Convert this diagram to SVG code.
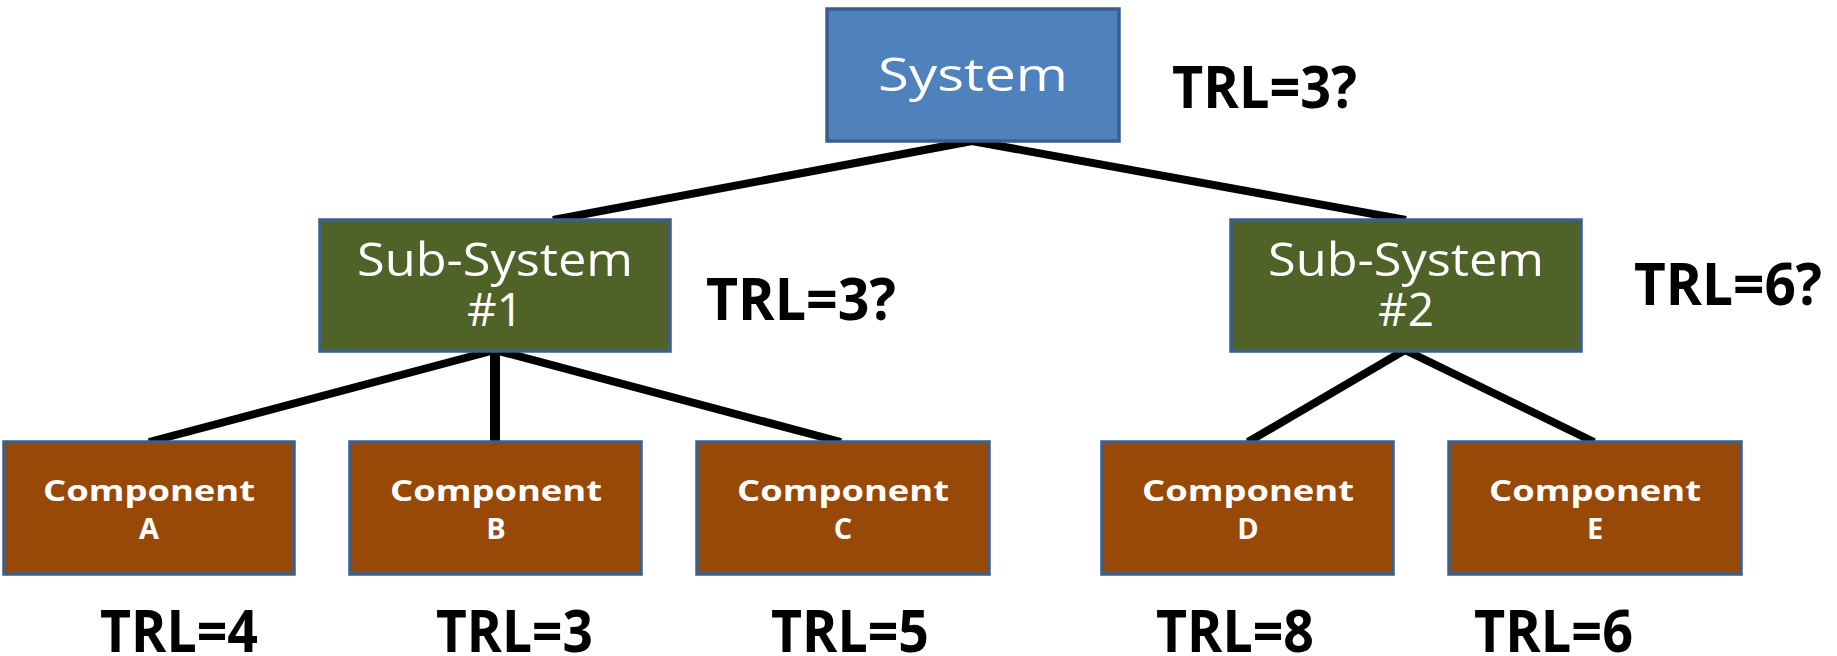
<svg xmlns="http://www.w3.org/2000/svg" width="1837" height="656" viewBox="0 0 1837 656">
  <style>
    .box { stroke-width: 3.5; }
    .sys { fill: #4F81BD; stroke: #3A5F8E; }
    .sub { fill: #4F6228; stroke: #3E5F8A; }
    .comp { fill: #984807; stroke: #3E5F8A; }
    .lbl { fill: #FFFFFF; font-family: "Open Sans", "Noto Sans", sans-serif; text-anchor: middle; }
    .big { font-size: 46px; }
    .small { font-size: 29px; font-weight: bold; }
    .trl { fill: #000000; font-family: "Open Sans", "Liberation Sans", sans-serif; font-weight: bold; font-size: 59px; }
    .edge { stroke: #000000; stroke-width: 8; fill: none; }
    .stem { stroke-width: 10; }
  </style>

  <!-- tree connectors -->
  <g id="connectors">
    <line class="edge" x1="972" y1="141" x2="553" y2="220"/>
    <line class="edge" x1="972" y1="141" x2="1406" y2="220"/>
    <line class="edge" x1="495" y1="350" x2="149" y2="442"/>
    <line class="edge stem" x1="495" y1="350" x2="495" y2="442"/>
    <line class="edge" x1="495" y1="350" x2="841" y2="442"/>
    <line class="edge" x1="1405" y1="350" x2="1248" y2="442"/>
    <line class="edge" x1="1405" y1="350" x2="1594" y2="442"/>
  </g>

  <g id="system">
    <rect class="box sys" x="827" y="9" width="292" height="132"/>
    <text class="lbl big" x="973" y="91" textLength="190" lengthAdjust="spacingAndGlyphs">System</text>
    <text class="trl" x="1172" y="108" textLength="185" lengthAdjust="spacingAndGlyphs">TRL=3?</text>
  </g>

  <g id="subsystem-1">
    <rect class="box sub" x="320" y="220" width="350" height="131"/>
    <text class="lbl big" x="495" y="276" textLength="276" lengthAdjust="spacingAndGlyphs">Sub-System</text>
    <text class="lbl big" x="495" y="326">#1</text>
    <text class="trl" x="706" y="320" textLength="190" lengthAdjust="spacingAndGlyphs">TRL=3?</text>
  </g>

  <g id="subsystem-2">
    <rect class="box sub" x="1231" y="220" width="350" height="131"/>
    <text class="lbl big" x="1406" y="276" textLength="276" lengthAdjust="spacingAndGlyphs">Sub-System</text>
    <text class="lbl big" x="1406" y="326">#2</text>
    <text class="trl" x="1634" y="305" textLength="188" lengthAdjust="spacingAndGlyphs">TRL=6?</text>
  </g>

  <g id="component-a">
    <rect class="box comp" x="4" y="442" width="290" height="132"/>
    <text class="lbl small" x="149" y="501" textLength="212" lengthAdjust="spacingAndGlyphs">Component</text>
    <text class="lbl small" x="149" y="539">A</text>
    <text class="trl" x="100" y="652" textLength="158" lengthAdjust="spacingAndGlyphs">TRL=4</text>
  </g>

  <g id="component-b">
    <rect class="box comp" x="350" y="442" width="291" height="132"/>
    <text class="lbl small" x="496" y="501" textLength="212" lengthAdjust="spacingAndGlyphs">Component</text>
    <text class="lbl small" x="496" y="539">B</text>
    <text class="trl" x="436" y="652" textLength="157" lengthAdjust="spacingAndGlyphs">TRL=3</text>
  </g>

  <g id="component-c">
    <rect class="box comp" x="697" y="442" width="292" height="132"/>
    <text class="lbl small" x="843" y="501" textLength="212" lengthAdjust="spacingAndGlyphs">Component</text>
    <text class="lbl small" x="843" y="539">C</text>
    <text class="trl" x="771" y="652" textLength="158" lengthAdjust="spacingAndGlyphs">TRL=5</text>
  </g>

  <g id="component-d">
    <rect class="box comp" x="1102" y="442" width="291" height="132"/>
    <text class="lbl small" x="1248" y="501" textLength="212" lengthAdjust="spacingAndGlyphs">Component</text>
    <text class="lbl small" x="1248" y="539">D</text>
    <text class="trl" x="1156" y="652" textLength="158" lengthAdjust="spacingAndGlyphs">TRL=8</text>
  </g>

  <g id="component-e">
    <rect class="box comp" x="1449" y="442" width="292" height="132"/>
    <text class="lbl small" x="1595" y="501" textLength="212" lengthAdjust="spacingAndGlyphs">Component</text>
    <text class="lbl small" x="1595" y="539">E</text>
    <text class="trl" x="1474" y="652" textLength="159" lengthAdjust="spacingAndGlyphs">TRL=6</text>
  </g>
</svg>
